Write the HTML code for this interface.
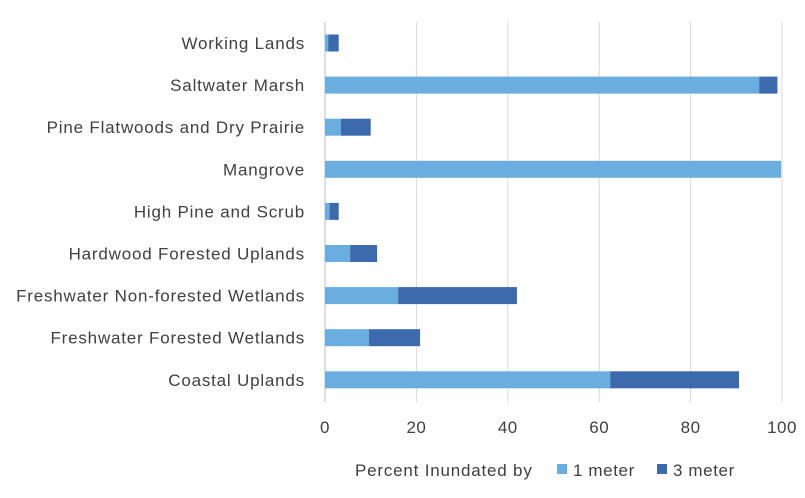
<!DOCTYPE html>
<html><head><meta charset="utf-8"><style>
body{margin:0;background:#fff;font-family:"Liberation Sans",sans-serif;}
svg text{font-family:"Liberation Sans",sans-serif;fill:#404040;}
</style></head><body>
<svg id="chart" width="805" height="493"></svg>
<script>
const categories=["Working Lands","Saltwater Marsh","Pine Flatwoods and Dry Prairie","Mangrove","High Pine and Scrub","Hardwood Forested Uplands","Freshwater Non-forested Wetlands","Freshwater Forested Wetlands","Coastal Uplands"];
const oneMeter=[0.7,95,3.5,99.8,1,5.5,16,9.6,62.4];
const threeMeter=[2.3,4,6.5,0,2,5.9,26,11.2,28.2];
const ticks=[0,20,40,60,80,100];
const NS="http://www.w3.org/2000/svg";
const svg=document.getElementById("chart");
const x0=325,x1=782,yTop=22,yBot=402,rowStart=43,rowStep=42.1,barH=17;
const xs=v=>x0+(v/100)*(x1-x0);
const ys=i=>rowStart+i*rowStep;
function mk(t,a){const e=document.createElementNS(NS,t);for(const k in a)e.setAttribute(k,a[k]);svg.appendChild(e);return e;}
ticks.forEach(t=>{
 const g=mk("line",{x1:xs(t),x2:xs(t),y1:yTop,y2:yBot,stroke:t===0?"#bfbfbf":"#d9d9d9","stroke-width":1});
 
 
 const l=mk("text",{x:xs(t),y:433,"text-anchor":"middle","font-size":17,"letter-spacing":0.5});
 l.textContent=t;
 
 
});
categories.forEach((c,i)=>{
 const y=ys(i);
 const lab=mk("text",{x:305,y:y+6,"text-anchor":"end","font-size":17,"letter-spacing":0.8});
 lab.textContent=c;
 
 
 const b1=mk("rect",{x:xs(0),y:y-barH/2,width:xs(oneMeter[i])-xs(0),height:barH,fill:"#6aaee0"});
 
 
 const b2=mk("rect",{x:xs(oneMeter[i]),y:y-barH/2,width:xs(oneMeter[i]+threeMeter[i])-xs(oneMeter[i]),height:barH,fill:"#3d6aad"});
 
 
});
const lt=mk("text",{x:355,y:476,"font-size":17,"letter-spacing":0.8});lt.textContent="Percent Inundated by";


const s1=mk("rect",{x:557,y:464,width:10,height:10,fill:"#6aaee0"});


const t1=mk("text",{x:573,y:476,"font-size":17,"letter-spacing":0.6});t1.textContent="1 meter";


const s2=mk("rect",{x:657,y:464,width:10,height:10,fill:"#3d6aad"});


const t2=mk("text",{x:673,y:476,"font-size":17,"letter-spacing":0.6});t2.textContent="3 meter";


</script>
</body></html>
